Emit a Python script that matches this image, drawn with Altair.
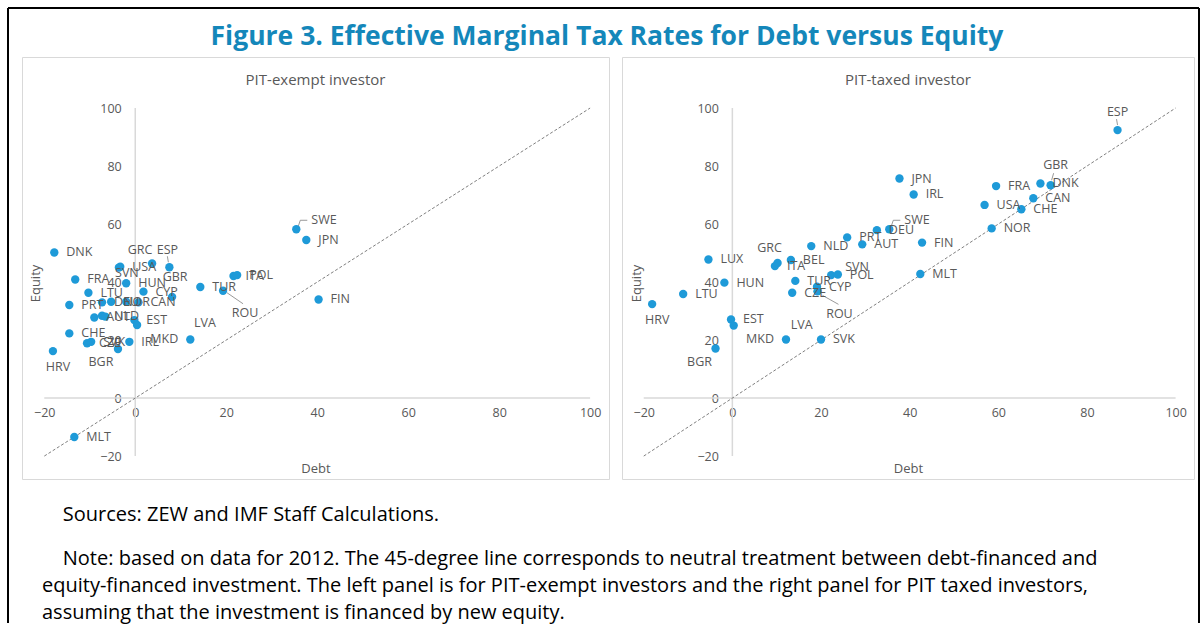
import altair as alt
import pandas as pd

# ---------------- data ----------------
# Effective marginal tax rates (%) for debt- and equity-financed investment
exempt_codes = ["DNK", "FRA", "LTU", "PRT", "DEU", "NOR", "AUT", "NLD", "CHE", "CZE",
                "SVK", "HRV", "BGR", "USA", "SVN", "HUN", "GRC", "ESP", "CYP", "GBR",
                "CAN", "LUX", "BEL", "EST", "LVA", "IRL", "MKD", "TUR", "ROU", "ITA",
                "POL", "SWE", "JPN", "FIN", "MLT"]
exempt_debt = [-17.8, -13.2, -10.3, -14.5, -7.3, -5.3, -9.0, -7.3, -14.5, -10.6,
               -9.7, -18.1, -3.8, -3.3, -3.6, -2.0, 3.7, 7.5, 1.8, 8.1,
               0.7, -2.0, -6.6, -0.2, 0.4, -1.3, 12.1, 14.3, 19.3, 21.6,
               22.4, 35.4, 37.6, 40.3, -13.4]
exempt_equity = [50.2, 40.9, 36.3, 32.1, 33.0, 33.2, 27.8, 28.4, 22.3, 18.9,
                 19.4, 16.2, 16.9, 45.3, 45.0, 39.6, 46.4, 45.1, 36.7, 34.9,
                 33.0, 33.2, 28.1, 26.9, 25.2, 19.4, 20.2, 38.3, 37.0, 42.1,
                 42.4, 58.2, 54.5, 34.0, -13.4]

taxed_codes = ["ESP", "GBR", "DNK", "FRA", "CAN", "CHE", "USA", "NOR", "JPN", "IRL",
               "SWE", "DEU", "PRT", "AUT", "NLD", "FIN", "MLT", "SVK", "SVN", "POL",
               "CYP", "ROU", "TUR", "CZE", "BEL", "GRC", "ITA", "LUX", "HUN", "LTU",
               "HRV", "EST", "LVA", "MKD", "BGR"]
taxed_debt = [86.9, 71.8, 69.5, 59.5, 67.9, 65.2, 56.9, 58.5, 37.7, 40.9,
              35.4, 32.6, 25.9, 29.3, 17.8, 42.8, 42.4, 20.0, 22.3, 23.8,
              19.1, 19.2, 14.2, 13.5, 13.2, 10.2, 9.6, -5.4, -1.8, -11.1,
              -18.1, -0.3, 0.3, 12.1, -3.8]
taxed_equity = [92.4, 73.4, 74.0, 73.1, 68.9, 65.1, 66.6, 58.5, 75.7, 70.2,
                58.2, 57.9, 55.4, 53.0, 52.4, 53.6, 42.8, 20.2, 42.4, 42.6,
                38.4, 36.8, 40.4, 36.3, 47.6, 46.6, 45.5, 47.8, 39.8, 35.9,
                32.4, 27.1, 25.0, 20.2, 17.1]

axis_ticks = [-20, 0, 20, 40, 60, 80, 100]
neutral_line = [-20, 100]  # 45-degree line: equal treatment of debt and equity

fig_title = "Figure 3. Effective Marginal Tax Rates for Debt versus Equity"
panel_titles = ["PIT-exempt investor", "PIT-taxed investor"]
# paragraph indent: a zero-width space keeps the no-break spaces from being trimmed
INDENT = "\u200b" + "\u00a0" * 4
sources_line = INDENT + "Sources: ZEW and IMF Staff Calculations."
note_lines = [
    INDENT + "Note: based on data for 2012. The 45-degree line corresponds to neutral treatment between debt-financed and",
    "equity-financed investment. The left panel is for PIT-exempt investors and the right panel for PIT taxed investors,",
    "assuming that the investment is financed by new equity.",
]

# ---------------- label placement ----------------
# code -> (dx, dy, align); all other labels sit to the right of their dot
exempt_nudge = {
    "SWE": (15, -9, "left"), "ROU": (22, 22, "center"), "ESP": (-2, -17, "center"),
    "GBR": (3, -20, "center"), "GRC": (-12, -14, "center"), "SVN": (8, 5, "center"),
    "HRV": (5, 16, "center"), "BGR": (-17, 13, "center"), "MKD": (-12, 0, "right"),
    "LVA": (57, -2, "left"),
}
taxed_nudge = {
    "SWE": (15, -9, "left"), "ROU": (22, 23, "center"), "ESP": (0, -18, "center"),
    "GBR": (5, -20, "center"), "GRC": (-8, -15, "center"), "SVN": (14, -8, "left"),
    "HRV": (5, 16, "center"), "BGR": (-16, 14, "center"), "MKD": (-12, 0, "right"),
    "LVA": (57, -1, "left"),
}
exempt_hidden = ["LUX", "BEL"]
taxed_hidden = []
# leader lines: code -> list of (x0, y0, x1, y1) pixel offsets from the dot
exempt_leaders = {
    "SWE": [(2, -3, 4, -9), (4, -9, 11, -9)],
    "ROU": [(4, 2, 20, 13)],
    "ESP": [(-1, -5, -2, -11)],
}
taxed_leaders = {
    "SWE": [(2, -3, 4, -9), (4, -9, 11, -9)],
    "ROU": [(5, 4, 21, 13)],
    "ESP": [(0, -5, -1, -11)],
    "GBR": [(1, -5, 3, -12)],
}

# ---------------- style / layout ----------------
FONT = "Open Sans"
DOT = "#1E9AD8"
GREY = "#595959"
AXIS_LINE = "#D9D9D9"
PANEL_H = 422
LEFT_W, RIGHT_W = 587, 572
X_DOMAIN = [-24.9, 104.15]
Y_DOMAIN = [-27.9, 117.6]
GAP = 13
# outer black frame, in pixels relative to the frame view
FRAME_TOP, FRAME_BOTTOM, FRAME_RIGHT = -49, 566, 1191


def panel(title, codes, debt, equity, width, nudge, leaders, hidden):
    df = pd.DataFrame({"code": codes, "debt": debt, "equity": equity})
    x_zero = (0 - X_DOMAIN[0]) / (X_DOMAIN[1] - X_DOMAIN[0]) * width
    y_zero = (0 - Y_DOMAIN[0]) / (Y_DOMAIN[1] - Y_DOMAIN[0]) * PANEL_H

    x_axis = alt.Axis(values=axis_ticks, offset=-y_zero, domain=False, ticks=False,
                      grid=False, labelPadding=8, labelColor=GREY, labelFontSize=12.5,
                      labelFont=FONT, labelFlush=False, labelOverlap=False,
                      title="Debt", titleFont=FONT, titleFontSize=13,
                      titleFontWeight="normal", titleColor=GREY,
                      titleBaseline="middle", titleY=70)
    y_axis = alt.Axis(values=axis_ticks, offset=-x_zero, domain=False, ticks=False,
                      grid=False, labelPadding=14, labelColor=GREY, labelFontSize=12.5,
                      labelFont=FONT, labelFlush=False, labelOverlap=False,
                      title="Equity", titleFont=FONT, titleFontSize=13,
                      titleFontWeight="normal", titleColor=GREY,
                      titleBaseline="middle", titleAlign="center",
                      titleX=-x_zero + 14, titleY=226)
    xs = alt.Scale(domain=X_DOMAIN, nice=False, zero=False)
    ys = alt.Scale(domain=Y_DOMAIN, nice=False, zero=False)
    X = alt.X("debt:Q", scale=xs, axis=x_axis)
    Y = alt.Y("equity:Q", scale=ys, axis=y_axis)

    # axes crossing at zero
    h_rule = alt.Chart(pd.DataFrame({"debt": [min(axis_ticks)], "debt2": [max(axis_ticks)],
                                     "equity": [0]})).mark_rule(
        color=AXIS_LINE, strokeWidth=1.5).encode(x=X, x2="debt2:Q", y=Y)
    v_rule = alt.Chart(pd.DataFrame({"debt": [0], "equity": [min(axis_ticks)],
                                     "equity2": [max(axis_ticks)]})).mark_rule(
        color=AXIS_LINE, strokeWidth=1.5).encode(x=X, y=Y, y2="equity2:Q")
    diag = alt.Chart(pd.DataFrame({"debt": neutral_line, "equity": neutral_line})).mark_line(
        color="#808080", strokeWidth=1, strokeDash=[3, 2]).encode(x=X, y=Y)

    layers = [h_rule, v_rule, diag]
    base = alt.Chart(df)
    for code, segs in leaders.items():
        for (x0, y0, x1, y1) in segs:
            layers.append(base.transform_filter(alt.datum.code == code).mark_rule(
                color="#7F7F7F", strokeWidth=0.8, xOffset=x0, yOffset=y0,
                x2Offset=x1, y2Offset=y1).encode(x=X, y=Y, x2="debt:Q", y2="equity:Q"))

    layers.append(base.mark_circle(size=70, color=DOT, opacity=1).encode(x=X, y=Y))

    text_style = dict(font=FONT, fontSize=12.5, color=GREY, baseline="middle")
    plain = [c for c in codes if c not in nudge and c not in hidden]
    layers.append(base.transform_filter(
        alt.FieldOneOfPredicate(field="code", oneOf=plain)).mark_text(
        align="left", dx=12, **text_style).encode(x=X, y=Y, text="code:N"))
    for code, (dx, dy, align) in nudge.items():
        layers.append(base.transform_filter(alt.datum.code == code).mark_text(
            align=align, dx=dx, dy=dy, **text_style).encode(x=X, y=Y, text="code:N"))

    return alt.layer(*layers).properties(
        width=width, height=PANEL_H,
        view=alt.ViewBackground(stroke=AXIS_LINE, strokeWidth=1, fill="white"),
        title=alt.TitleParams(title, font=FONT, fontSize=15, fontWeight="normal",
                              color=GREY, anchor="middle", frame="group",
                              baseline="top", offset=-31),
    )


left = panel(panel_titles[0], exempt_codes, exempt_debt, exempt_equity, LEFT_W,
             exempt_nudge, exempt_leaders, exempt_hidden)
right = panel(panel_titles[1], taxed_codes, taxed_debt, taxed_equity, RIGHT_W,
              taxed_nudge, taxed_leaders, taxed_hidden)

# black frame around the figure, carrying the source and note text
one = alt.Chart(pd.DataFrame({"k": [0]}))
frame_style = dict(color="black", strokeWidth=2)
frame = alt.layer(
    one.mark_rule(**frame_style).encode(x=alt.value(0), y=alt.value(FRAME_TOP),
                                        y2=alt.value(FRAME_BOTTOM)),
    one.mark_rule(**frame_style).encode(x=alt.value(0), x2=alt.value(FRAME_RIGHT),
                                        y=alt.value(FRAME_TOP)),
    one.mark_rule(**frame_style).encode(x=alt.value(FRAME_RIGHT), y=alt.value(FRAME_TOP),
                                        y2=alt.value(FRAME_BOTTOM)),
).properties(
    width=1, height=PANEL_H,
    title=alt.TitleParams(sources_line, subtitle=note_lines, orient="bottom",
                          anchor="start", frame="bounds", baseline="top",
                          font=FONT, fontSize=20, fontWeight="normal", color="black",
                          subtitleFont=FONT, subtitleFontSize=20, subtitleColor="black",
                          subtitleLineHeight=27, subtitlePadding=24,
                          dx=35, offset=-119),
)

chart = alt.hconcat(frame, left, right, spacing=GAP, bounds="flush").properties(
    title=alt.TitleParams(fig_title, font=FONT, fontSize=26.5, fontWeight="bold",
                          color="#1487BA", anchor="middle", baseline="top",
                          dx=3.5, offset=-43),
    padding={"left": 7, "top": 7, "right": 0, "bottom": 0},
    background="white",
).configure_view(strokeWidth=0)

chart.save("out.html", embed_options={"renderer": "svg", "actions": False})
